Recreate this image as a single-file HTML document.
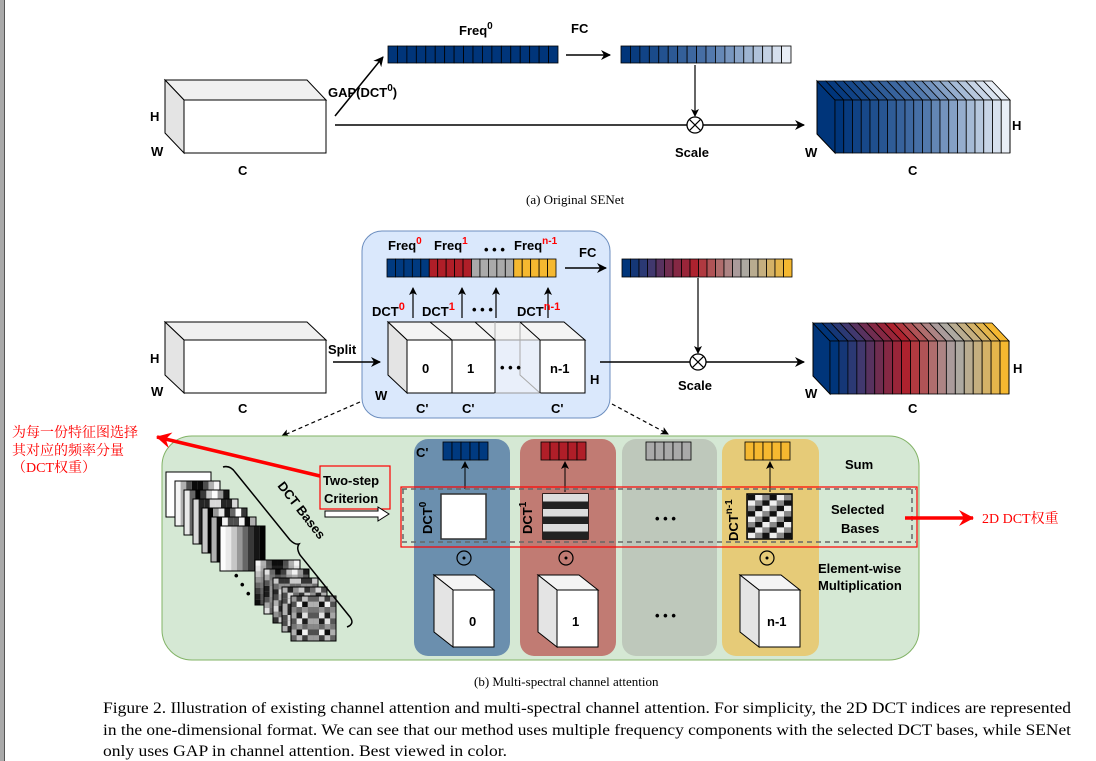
<!DOCTYPE html>
<html><head><meta charset="utf-8"><style>
html,body{margin:0;padding:0;background:#fff;width:1096px;height:761px;overflow:hidden}
svg{display:block}
.b{font-family:"Liberation Sans",Arial,sans-serif;font-weight:bold;font-size:13px;fill:#000}
.s{font-family:"Liberation Serif",serif;font-size:13px;fill:#000}
.cap{font-family:"Liberation Serif",serif;font-size:15.5px;fill:#000}
.r{fill:#f00}
.cn{font-family:"Liberation Serif","Noto Serif CJK SC",serif;font-size:14px;fill:#f00}
</style></head><body>
<svg id="s" width="1096" height="761" viewBox="0 0 1096 761" xmlns="http://www.w3.org/2000/svg">
<defs>
<marker id="a" markerWidth="10" markerHeight="10" refX="9" refY="5" orient="auto" markerUnits="userSpaceOnUse"><path d="M0,0 L10,5 L0,10 L3,5z" fill="#000"/></marker>
<marker id="as" markerWidth="8" markerHeight="8" refX="7" refY="4" orient="auto" markerUnits="userSpaceOnUse"><path d="M0,0 L8,4 L0,8 L2,4z" fill="#000"/></marker>
<marker id="ar" markerWidth="16" markerHeight="16" refX="14" refY="8" orient="auto" markerUnits="userSpaceOnUse"><path d="M0,0 L15,8 L0,16 L5,8z" fill="#f00"/></marker>
</defs>
<rect x="0" y="0" width="4" height="761" fill="#a9a9a9"/><line x1="4.5" y1="0" x2="4.5" y2="761" stroke="#555"/>

<!-- (a) -->
<g id="cubeA" stroke="#000" stroke-width="1">
<path d="M165,80 L307,80 L326,100 L184,100z" fill="#f0f0f0"/>
<path d="M165,80 L184,100 L184,153 L165,133z" fill="#e4e4e4"/>
<rect x="184" y="100" width="142" height="53" fill="#fff"/>
</g>
<text class="b" x="150" y="121">H</text><text class="b" x="151" y="156">W</text><text class="b" x="238" y="175">C</text>
<g id="barA"></g><g id="barA2"></g>
<line x1="335" y1="116" x2="383" y2="57" stroke="#000" stroke-width="1.5" marker-end="url(#a)"/>
<text class="b" x="328" y="97">GAP(DCT<tspan dy="-6" font-size="10">0</tspan><tspan dy="6">)</tspan></text>
<text class="b" x="459" y="35">Freq<tspan dy="-6" font-size="10">0</tspan></text>
<text class="b" x="571" y="33">FC</text>
<line x1="566" y1="55" x2="610" y2="55" stroke="#000" stroke-width="1.5" marker-end="url(#a)"/>
<line x1="695" y1="65" x2="695" y2="116" stroke="#000" stroke-width="1.2" marker-end="url(#as)"/>
<line x1="335" y1="125" x2="804" y2="125" stroke="#000" stroke-width="1.5" marker-end="url(#a)"/>
<circle cx="695" cy="125" r="8" fill="#fff" stroke="#000" stroke-width="1.3"/>
<path d="M689.3,119.3 L700.7,130.7 M700.7,119.3 L689.3,130.7" stroke="#000" stroke-width="1.2"/>
<text class="b" x="675" y="157">Scale</text>
<g id="stackA"></g>
<text class="b" x="1012" y="130">H</text><text class="b" x="805" y="157">W</text><text class="b" x="908" y="175">C</text>
<text class="s" x="526" y="204">(a)  Original SENet</text>

<!-- (b) -->
<rect x="362" y="231" width="248" height="187" rx="20" fill="#dae8fc" stroke="#6c8ebf"/>
<g stroke="#000" stroke-width="1">
<path d="M165,322 L307,322 L326,340 L184,340z" fill="#f0f0f0"/>
<path d="M165,322 L184,340 L184,393 L165,375z" fill="#e4e4e4"/>
<rect x="184" y="340" width="142" height="53" fill="#fff"/>
</g>
<text class="b" x="150" y="363">H</text><text class="b" x="151" y="396">W</text><text class="b" x="238" y="413">C</text>
<text class="b" x="328" y="354">Split</text>
<line x1="333" y1="362" x2="380" y2="362" stroke="#000" stroke-width="1.5" marker-end="url(#a)"/>
<!-- split cube -->
<g stroke="#000" stroke-width="1">
<path d="M388,322 L564,322 L585,340 L407,340z" fill="#f4f4f4"/>
<path d="M388,322 L407,340 L407,393 L388,375z" fill="#e4e4e4"/>
<rect x="407" y="340" width="178" height="53" fill="#fff"/>
<rect x="495" y="340" width="45" height="53" fill="#e9effa" stroke="#999"/>
<path d="M495,322 L495,340 M520,322 L520,375 L540,393" fill="none" stroke="#aaa"/>
<path d="M430,322 L452,340 L452,393 M475,322 L495,340 L495,393 M520,322 L540,340 L540,393" fill="none"/>
</g>
<text class="b" x="422" y="373">0</text><text class="b" x="467" y="373">1</text><text class="b" x="500" y="372">• • •</text><text class="b" x="550" y="373">n-1</text>
<text class="b" x="375" y="400">W</text><text class="b" x="590" y="384">H</text>
<text class="b" x="416" y="413">C'</text><text class="b" x="462" y="413">C'</text><text class="b" x="551" y="413">C'</text>
<g id="barB"></g><g id="barB2"></g>
<text class="b" x="388" y="250">Freq<tspan dy="-6" font-size="10" class="r">0</tspan></text>
<text class="b" x="434" y="250">Freq<tspan dy="-6" font-size="10" class="r">1</tspan></text>
<text class="b" x="484" y="254">• • •</text>
<text class="b" x="514" y="250">Freq<tspan dy="-6" font-size="10" class="r">n-1</tspan></text>
<text class="b" x="579" y="257">FC</text>
<line x1="565" y1="268" x2="606" y2="268" stroke="#000" stroke-width="1.5" marker-end="url(#a)"/>
<g stroke="#000" stroke-width="1.2">
<line x1="413" y1="318" x2="413" y2="288" marker-end="url(#as)"/>
<line x1="462" y1="318" x2="462" y2="288" marker-end="url(#as)"/>
<line x1="496" y1="318" x2="496" y2="288" marker-end="url(#as)"/>
<line x1="548" y1="318" x2="548" y2="288" marker-end="url(#as)"/>
</g>
<text class="b" x="372" y="316">DCT<tspan dy="-6" font-size="11" class="r">0</tspan></text>
<text class="b" x="422" y="316">DCT<tspan dy="-6" font-size="11" class="r">1</tspan></text>
<text class="b" x="472" y="314">• • •</text>
<text class="b" x="517" y="316">DCT<tspan dy="-6" font-size="11" class="r">n-1</tspan></text>
<line x1="698" y1="278" x2="698" y2="353" stroke="#000" stroke-width="1.2" marker-end="url(#as)"/>
<line x1="600" y1="362" x2="804" y2="362" stroke="#000" stroke-width="1.5" marker-end="url(#a)"/>
<circle cx="698" cy="362" r="8" fill="#fff" stroke="#000" stroke-width="1.3"/>
<path d="M692.3,356.3 L703.7,367.7 M703.7,356.3 L692.3,367.7" stroke="#000" stroke-width="1.2"/>
<text class="b" x="678" y="390">Scale</text>
<g id="stackB"></g>
<text class="b" x="1013" y="373">H</text><text class="b" x="805" y="398">W</text><text class="b" x="908" y="413">C</text>
<line x1="360" y1="402" x2="282" y2="436" stroke="#000" stroke-width="1.2" stroke-dasharray="4,3" marker-end="url(#as)"/>
<line x1="612" y1="404" x2="668" y2="434" stroke="#000" stroke-width="1.2" stroke-dasharray="4,3" marker-end="url(#as)"/>

<!-- green panel -->
<rect x="162" y="436" width="757" height="224" rx="30" fill="#d5e8d4" stroke="#82b366"/>
<rect x="414" y="439" width="96" height="217" rx="14" fill="#6b8fae"/>
<rect x="520" y="439" width="96" height="217" rx="14" fill="#c17b73"/>
<rect x="622" y="439" width="95" height="217" rx="14" fill="#bec8bb"/>
<rect x="722" y="439" width="97" height="217" rx="14" fill="#e6cb78"/>
<g id="small"></g>
<text class="b" x="416" y="457">C'</text>
<g stroke="#000" stroke-width="1">
<line x1="465" y1="489" x2="465" y2="462" marker-end="url(#as)"/>
<line x1="565" y1="492" x2="565" y2="462" marker-end="url(#as)"/>
<line x1="770" y1="492" x2="770" y2="462" marker-end="url(#as)"/>
</g>
<rect x="441" y="494" width="45" height="45" fill="#fff" stroke="#333" stroke-width="1.5"/>
<g id="stripe"></g><g id="check"></g>
<text class="b" transform="translate(432,534) rotate(-90)">DCT<tspan dy="-6" font-size="10">0</tspan></text>
<text class="b" transform="translate(532,534) rotate(-90)">DCT<tspan dy="-6" font-size="10">1</tspan></text>
<text class="b" transform="translate(738,541) rotate(-90)">DCT<tspan dy="-6" font-size="10">n-1</tspan></text>
<text class="b" x="655" y="523">• • •</text>
<line x1="402" y1="489" x2="916" y2="489" stroke="#666" stroke-width="1.5" stroke-dasharray="5,4"/>
<line x1="402" y1="542" x2="916" y2="542" stroke="#666" stroke-width="1.5" stroke-dasharray="5,4"/>
<line x1="403" y1="489" x2="403" y2="542" stroke="#666" stroke-width="1.5" stroke-dasharray="5,4"/>
<line x1="912" y1="489" x2="912" y2="542" stroke="#666" stroke-width="1.5" stroke-dasharray="5,4"/>
<rect x="401" y="487" width="516" height="60" fill="none" stroke="#f00" stroke-width="1.2"/>
<g fill="none" stroke="#000" stroke-width="1.2">
<circle cx="464" cy="558" r="7"/><circle cx="566" cy="558" r="7"/><circle cx="767" cy="558" r="7"/>
</g>
<circle cx="464" cy="558" r="1.5"/><circle cx="566" cy="558" r="1.5"/><circle cx="767" cy="558" r="1.5"/>
<g stroke="#000" stroke-width="1">
<path d="M434,575 L475,575 L494,590 L453,590z" fill="#f4f4f4"/><path d="M434,575 L453,590 L453,647 L434,632z" fill="#e4e4e4"/><rect x="453" y="590" width="41" height="57" fill="#fff"/>
<path d="M538,575 L579,575 L598,590 L557,590z" fill="#f4f4f4"/><path d="M538,575 L557,590 L557,647 L538,632z" fill="#e4e4e4"/><rect x="557" y="590" width="41" height="57" fill="#fff"/>
<path d="M740,575 L781,575 L800,590 L759,590z" fill="#f4f4f4"/><path d="M740,575 L759,590 L759,647 L740,632z" fill="#e4e4e4"/><rect x="759" y="590" width="41" height="57" fill="#fff"/>
</g>
<text class="b" x="469" y="626">0</text><text class="b" x="572" y="626">1</text><text class="b" x="767" y="626">n-1</text>
<text class="b" x="655" y="620">• • •</text>
<text class="b" x="845" y="469">Sum</text>
<text class="b" x="831" y="514">Selected</text><text class="b" x="841" y="533">Bases</text>
<text class="b" x="818" y="573">Element-wise</text><text class="b" x="818" y="590">Multiplication</text>
<!-- DCT bases stack -->
<g id="bases"></g>
<path d="M223,467 Q230,465 235,472 L290,540 Q295,545 299,544 Q296,548 300,555 L350,617 Q355,624 347,627" fill="none" stroke="#000" stroke-width="1.5"/>
<text class="b" font-size="14" transform="translate(277,486) rotate(52)">DCT Bases</text>
<text class="b" x="234" y="580">•</text><text class="b" x="240" y="589">•</text><text class="b" x="246" y="598">•</text>
<rect x="320" y="466" width="70" height="43" fill="none" stroke="#f00" stroke-width="1.2"/>
<text class="b" x="323" y="485">Two-step</text><text class="b" x="324" y="503">Criterion</text>
<path d="M325,511 L378,511 L378,507 L389,514 L378,521 L378,517 L325,517z" fill="#fff" stroke="#000"/>
<line x1="320" y1="476" x2="157" y2="437" stroke="#f00" stroke-width="3.5" marker-end="url(#ar)"/>
<line x1="905" y1="518" x2="973" y2="518" stroke="#f00" stroke-width="3.5" marker-end="url(#ar)"/>
<text class="cn" x="12" y="437">为每一份特征图选择</text>
<text class="cn" x="12" y="455">其对应的频率分量</text>
<text class="cn" x="12" y="472">（DCT权重）</text>
<text class="cn" x="982" y="523">2D DCT权重</text>
<text class="s" x="474" y="686">(b)  Multi-spectral channel attention</text>
<text class="cap" x="103" y="713" textLength="968" lengthAdjust="spacingAndGlyphs">Figure 2. Illustration of existing channel attention and multi-spectral channel attention. For simplicity, the 2D DCT indices are represented</text>
<text class="cap" x="103" y="735" textLength="968" lengthAdjust="spacingAndGlyphs">in the one-dimensional format. We can see that our method uses multiple frequency components with the selected DCT bases, while SENet</text>
<text class="cap" x="103" y="756" textLength="404" lengthAdjust="spacingAndGlyphs">only uses GAP in channel attention. Best viewed in color.</text>
</svg>
<script>
const NS="http://www.w3.org/2000/svg";
function el(p,t,a){const e=document.createElementNS(NS,t);for(const k in a)e.setAttribute(k,a[k]);document.getElementById(p).appendChild(e);return e;}
function hex(c){return[parseInt(c.slice(1,3),16),parseInt(c.slice(3,5),16),parseInt(c.slice(5,7),16)];}
function interp(stops,t){const n=stops.length-1;let i=Math.min(Math.floor(t*n),n-1);const f=t*n-i;const a=hex(stops[i]),b=hex(stops[i+1]);return"rgb("+a.map((v,k)=>Math.round(v+(b[k]-v)*f)).join(",")+")";}
const blue=["#00357a","#4a72a8","#e8eef6"];
const multi=["#00357a","#3a3a72","#7a2a4a","#b0222c","#b06a6a","#a8a8a8","#c8b07a","#f5b830"];
function bar(id,x,y,w,h,n,fn){const cw=w/n;for(let i=0;i<n;i++)el(id,"rect",{x:x+i*cw,y:y,width:cw,height:h,fill:fn(i),stroke:"#000","stroke-width":0.8});}
bar("barA",388,46,170,17,18,()=>"#00357a");
bar("barA2",621,46,170,17,18,i=>interp(blue,i/17));
const q=["#003a80","#b01e28","#aaaaaa","#f5b830"];
bar("barB",387,259,169,18,20,i=>q[Math.floor(i/5)]);
bar("barB2",622,259,170,18,20,i=>interp(multi,i/19));
function stack(id,x0,y0,x1,y1,dx,dy,n,stops){
 const cw=(x1-x0)/n;
 el(id,"path",{d:`M${x0-dx},${y0-dy} L${x0},${y0} L${x0},${y1} L${x0-dx},${y1-dy}z`,fill:interp(stops,0),stroke:"#000"});
 for(let i=n-1;i>=0;i--){const x=x0+i*cw,c=interp(stops,i/(n-1));
  el(id,"path",{d:`M${x-dx},${y0-dy} L${x-dx+cw},${y0-dy} L${x+cw},${y0} L${x},${y0}z`,fill:c,stroke:"#000","stroke-width":0.8});}
 for(let i=0;i<n;i++){const x=x0+i*cw;el(id,"rect",{x:x,y:y0,width:cw,height:y1-y0,fill:interp(stops,i/(n-1)),stroke:"#000","stroke-width":0.8});}
 const xe=x1;el(id,"path",{d:`M${xe},${y0} L${xe},${y1}`,stroke:"#000"});
}
stack("stackA",835,100,1010,153,18,19,20,blue);
stack("stackB",830,341,1009,394,17,18,20,multi);
const sc=[["#003a80",443],["#b01e28",541],["#aaaaaa",646],["#f5b830",745]];
sc.forEach(([c,x])=>{for(let i=0;i<5;i++)el("small","rect",{x:x+i*9,y:442,width:9,height:18,fill:c,stroke:"#000","stroke-width":0.8});});
el("stripe","rect",{x:543,y:494,width:45,height:45,fill:"#ddd",stroke:"#000","stroke-width":1.5});
for(let i=0;i<6;i++)el("stripe","rect",{x:543,y:494+i*7.5,width:45,height:7.5,fill:i%2?"#222":"#ddd"});
el("check","rect",{x:747,y:494,width:45,height:45,fill:"#777",stroke:"#000","stroke-width":1.5});
for(let r=0;r<8;r++)for(let c=0;c<6;c++){const v=(r+c)%3;el("check","rect",{x:748+c*7.2,y:495+r*5.4,width:7.2,height:5.4,fill:v==0?"#111":v==1?"#eee":"#888"});}
// DCT bases
const pos=[];for(let i=0;i<7;i++)pos.push([166+i*9,472+i*9]);for(let i=0;i<5;i++)pos.push([255+i*9,560+i*9]);
pos.forEach(([x,y],k)=>{const g=el("bases","g",{});
 el("bases","rect",{x:x,y:y,width:45,height:45,fill:"#fff",stroke:"#000"});
 const n=k%6+1;
 for(let c=0;c<8;c++){const v=Math.round(127+127*Math.cos(Math.PI*(2*c+1)*n/16));
  el("bases","rect",{x:x+c*5.6,y:y,width:5.6,height:45,fill:k==0?"#fff":`rgb(${v},${v},${v})`});}
 if(k>=7){for(let r=0;r<8;r++)for(let c=0;c<8;c++){const v=Math.round(127+127*Math.cos(Math.PI*(2*c+1)*(k-5)/16)*Math.cos(Math.PI*(2*r+1)*(k-6)/16));el("bases","rect",{x:x+c*5.6,y:y+r*5.6,width:5.6,height:5.6,fill:`rgb(${v},${v},${v})`});}}
 el("bases","rect",{x:x,y:y,width:45,height:45,fill:"none",stroke:"#000"});
});
</script>
</body></html>
